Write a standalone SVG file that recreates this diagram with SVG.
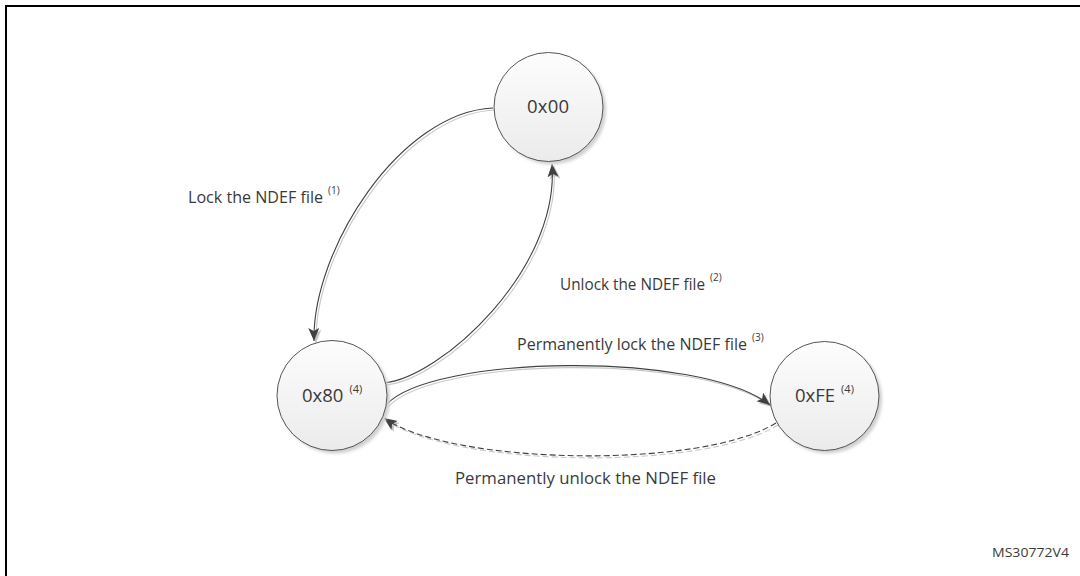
<svg xmlns="http://www.w3.org/2000/svg" width="1080" height="576" viewBox="0 0 1080 576">
<defs>
<linearGradient id="nodeFill" x1="0" y1="0" x2="0" y2="1">
<stop offset="0" stop-color="#fdfdfd"/>
<stop offset="1" stop-color="#ebebeb"/>
</linearGradient>
<filter id="blur" x="-20%" y="-20%" width="140%" height="140%">
<feGaussianBlur stdDeviation="1.5"/>
</filter>
<marker id="arr" markerUnits="userSpaceOnUse" markerWidth="14" markerHeight="12" refX="13" refY="5.5" orient="auto">
<path d="M0,0 L13,5.5 L0,11 L3,5.5 z" fill="#404040"/>
</marker>
<marker id="arrS" markerUnits="userSpaceOnUse" markerWidth="14" markerHeight="12" refX="13" refY="5.5" orient="auto">
<path d="M0,0 L13,5.5 L0,11 L3,5.5 z" fill="#c4c4c4"/>
</marker>
</defs>
<style>
.frame{fill:none;stroke:#000;stroke-width:2}
.shadow{fill:#d0d0d0}
.node{fill:url(#nodeFill);stroke:#555;stroke-width:1}
.nl{font-family:"Open Sans","Liberation Sans",sans-serif;font-size:18.5px;fill:#3a3a3a}
.lbl{font-family:"Open Sans","Liberation Sans",sans-serif;font-size:15.5px;fill:#3a3a3a}
.sup{font-family:"Open Sans","Liberation Sans",sans-serif;font-size:10px;fill:#3a3a3a}
.supn{font-family:"Open Sans","Liberation Sans",sans-serif;font-size:11px;fill:#3a3a3a}
.ln{fill:none;stroke:#404040;stroke-width:1.1}
.lnS{fill:none;stroke:#c8c8c8;stroke-width:1.1}
.dash{stroke-dasharray:6 3}
.id{font-family:"Open Sans","Liberation Sans",sans-serif;font-size:13.5px;fill:#3a3a3a}
</style>
<rect x="0" y="0" width="1080" height="576" fill="#fff"/>
<rect class="frame" x="6" y="6" width="1100" height="600"/>

<g id="connectors">
<g transform="translate(2,2)">
<path class="lnS" d="M493,108 C400,112 312,250 314,341" marker-end="url(#arrS)"/>
<path class="lnS" d="M384,383 C440,378 560,270 552,164" marker-end="url(#arrS)"/>
<path class="lnS" d="M386,405 C430,355 700,350 770,405" marker-end="url(#arrS)"/>
<path class="lnS dash" d="M776,423 C700,470 450,465 384,418" marker-end="url(#arrS)"/>
</g>
<path class="ln" d="M493,108 C400,112 312,250 314,341" marker-end="url(#arr)"/>
<path class="ln" d="M384,383 C440,378 560,270 552,164" marker-end="url(#arr)"/>
<path class="ln" d="M386,405 C430,355 700,350 770,405" marker-end="url(#arr)"/>
<path class="ln dash" d="M776,423 C700,470 450,465 384,418" marker-end="url(#arr)"/>
</g>

<g id="node-0x00">
<circle class="shadow" cx="551.5" cy="110" r="54.5" filter="url(#blur)"/>
<circle class="node" cx="548.5" cy="107" r="54.5"/>
<text class="nl" x="548" y="113" text-anchor="middle" textLength="42">0x00</text>
</g>
<g id="node-0x80">
<circle class="shadow" cx="335" cy="398.5" r="55" filter="url(#blur)"/>
<circle class="node" cx="332" cy="395.5" r="55"/>
<text class="nl" x="302" y="402">0x80<tspan class="supn" dx="6" dy="-9">(4)</tspan></text>
</g>
<g id="node-0xFE">
<circle class="shadow" cx="827.5" cy="399" r="54.5" filter="url(#blur)"/>
<circle class="node" cx="824.5" cy="396" r="54.5"/>
<text class="nl" x="795" y="402">0xFE<tspan class="supn" dx="6" dy="-9">(4)</tspan></text>
</g>

<g id="labels">
<text class="lbl" x="188" y="203"><tspan textLength="135" lengthAdjust="spacingAndGlyphs">Lock the NDEF file</tspan><tspan class="sup" dx="5" dy="-9">(1)</tspan></text>
<text class="lbl" x="560" y="290"><tspan textLength="145" lengthAdjust="spacingAndGlyphs">Unlock the NDEF file</tspan><tspan class="sup" dx="5" dy="-9">(2)</tspan></text>
<text class="lbl" x="517" y="350"><tspan textLength="230" lengthAdjust="spacingAndGlyphs">Permanently lock the NDEF file</tspan><tspan class="sup" dx="5" dy="-9">(3)</tspan></text>
<text class="lbl" x="455" y="484" textLength="261" lengthAdjust="spacingAndGlyphs">Permanently unlock the NDEF file</text>
<text class="id" x="992" y="557" textLength="77" lengthAdjust="spacingAndGlyphs">MS30772V4</text>
</g>
</svg>
